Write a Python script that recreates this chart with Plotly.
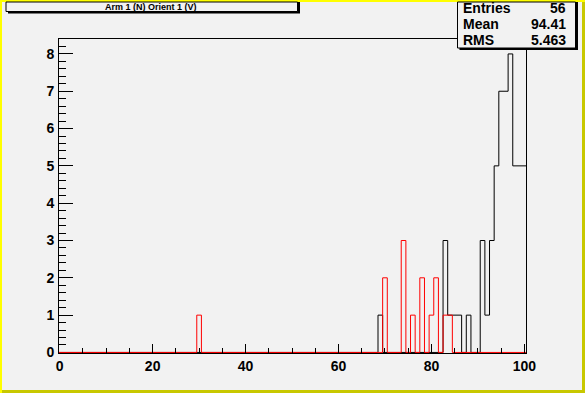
import plotly.graph_objects as go

# ---------------- data ----------------
black_bins = [69, 83, 84, 85, 86, 88, 91, 92, 93, 94, 95, 96, 97, 98, 99, 100]
black_counts = [1, 3, 1, 1, 1, 1, 3, 1, 3, 5, 7, 7, 8, 5, 5, 5]
red_bins = [30, 70, 74, 76, 78, 80, 81, 83, 84]
red_counts = [1, 2, 3, 1, 2, 1, 2, 1, 1]
x_tick_vals = [0, 20, 40, 60, 80, 100]
y_tick_vals = [0, 1, 2, 3, 4, 5, 6, 7, 8]
title_text = "Arm 1 (N) Orient 1 (V)"
stats_labels = ["Entries", "Mean", "RMS"]
stats_values = ["56", "94.41", "5.463"]

# ---------------- layout geometry ----------------
FW, FH = 585, 393
L, R, T, B = 59, 526, 39, 353
W, H = R - L, B - T
BG = "#f2f2f2"
FONT = "Liberation Sans"


def px(x):
    return (x - L) / W


def py(y):
    return 1 - (y - T) / H


def step_path(bins, counts, first=0, last=100):
    d = dict(zip(bins, counts))
    xs, ys = [first - 0.5], [0]
    for k in range(first, last + 1):
        c = d.get(k, 0)
        xs += [k - 0.5, k + 0.5]
        ys += [c, c]
    xs.append(last + 0.5)
    ys.append(0)
    return xs, ys


fig = go.Figure()
bx, by = step_path(black_bins, black_counts)
rx, ry = step_path(red_bins, red_counts)
fig.add_trace(go.Scatter(x=bx, y=by, mode="lines", line=dict(color="black", width=1),
                         hoverinfo="skip", showlegend=False))
fig.add_trace(go.Scatter(x=rx, y=ry, mode="lines", line=dict(color="red", width=1),
                         hoverinfo="skip", showlegend=False))

shapes = []
# canvas bevel border
shapes.append(dict(type="rect", xref="paper", yref="paper", x0=px(0), x1=px(FW), y0=py(FH - 3), y1=py(FH),
                   fillcolor="#c8c800", line=dict(width=0), layer="above"))
shapes.append(dict(type="rect", xref="paper", yref="paper", x0=px(FW - 3), x1=px(FW), y0=py(FH), y1=py(0),
                   fillcolor="#c8c800", line=dict(width=0), layer="above"))
shapes.append(dict(type="rect", xref="paper", yref="paper", x0=px(0), x1=px(FW), y0=py(2), y1=py(0),
                   fillcolor="#ffff00", line=dict(width=0), layer="above"))
shapes.append(dict(type="rect", xref="paper", yref="paper", x0=px(0), x1=px(2), y0=py(FH), y1=py(0),
                   fillcolor="#ffff00", line=dict(width=0), layer="above"))
# title box (shadow + box)
shapes.append(dict(type="rect", xref="paper", yref="paper", x0=px(8), x1=px(300), y0=py(13.5), y1=py(2),
                   fillcolor="black", line=dict(width=0), layer="above"))
shapes.append(dict(type="rect", xref="paper", yref="paper", x0=px(6), x1=px(297.5), y0=py(11.5), y1=py(2),
                   fillcolor=BG, line=dict(color="black", width=1), layer="above"))
# stats box (shadow + box)
shapes.append(dict(type="rect", xref="paper", yref="paper", x0=px(459.5), x1=px(578), y0=py(50), y1=py(2),
                   fillcolor="black", line=dict(width=0), layer="above"))
shapes.append(dict(type="rect", xref="paper", yref="paper", x0=px(457.5), x1=px(575.5), y0=py(48), y1=py(2),
                   fillcolor=BG, line=dict(color="black", width=1), layer="above"))
# grey frame bottom edge
shapes.append(dict(type="line", xref="paper", yref="paper", x0=0, x1=1, y0=py(B + 0.5), y1=py(B + 0.5),
                   line=dict(color="#a0a0a0", width=1), layer="below"))

annotations = [dict(text="<b>%s</b>" % title_text, xref="paper", yref="paper", x=px(151), y=py(7),
                    xanchor="center", yanchor="middle", showarrow=False,
                    font=dict(family=FONT, size=9, color="black"))]
stat_y = [7.5, 23.5, 40]
for lab, val, yy in zip(stats_labels, stats_values, stat_y):
    annotations.append(dict(text="<b>%s</b>" % lab, xref="paper", yref="paper", x=px(461), y=py(yy),
                            xanchor="left", yanchor="middle", showarrow=False,
                            font=dict(family=FONT, size=14, color="black")))
    annotations.append(dict(text="<b>%s</b>" % val, xref="paper", yref="paper", x=px(568), y=py(yy),
                            xanchor="right", yanchor="middle", showarrow=False,
                            font=dict(family=FONT, size=14, color="black")))

tick_font = dict(family=FONT, size=14, color="black", weight="bold")

fig.update_layout(
    width=FW, height=FH,
    margin=dict(l=L, r=FW - R, t=T, b=FH - B, pad=0),
    paper_bgcolor=BG, plot_bgcolor=BG,
    shapes=shapes, annotations=annotations,
    showlegend=False,
    xaxis=dict(range=[-0.15, 100.35], tickmode="array", tickvals=x_tick_vals,
               ticktext=["<b>%d</b>" % v for v in x_tick_vals],
               ticks="inside", ticklen=9, tickcolor="black", tickwidth=1,
               minor=dict(dtick=5, tick0=0, ticks="inside", ticklen=5, tickcolor="black", tickwidth=1),
               showgrid=False, zeroline=False, showline=True, linecolor="black", linewidth=1, mirror=True,
               tickfont=tick_font),
    yaxis=dict(range=[-0.015, 8.4], tickmode="array", tickvals=y_tick_vals,
               ticktext=["<b>%d</b>" % v for v in y_tick_vals],
               ticks="inside", ticklen=14, tickcolor="black", tickwidth=1, ticklabelstandoff=1,
               minor=dict(dtick=0.2, tick0=0, ticks="inside", ticklen=7, tickcolor="black", tickwidth=1),
               showgrid=False, zeroline=False, showline=True, linecolor="black", linewidth=1, mirror=True,
               tickfont=tick_font),
)

fig.write_html("out.html")
